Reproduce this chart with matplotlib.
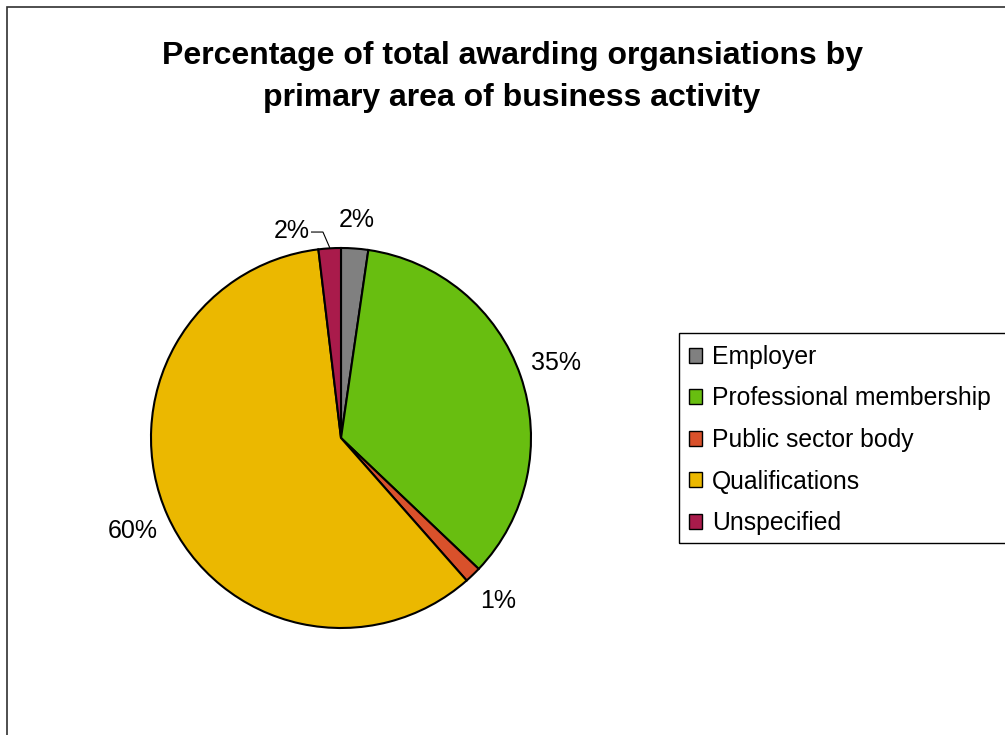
import numpy as np
import matplotlib.pyplot as plt
from matplotlib.patches import Rectangle, Patch

plt.rcParams['font.family'] = ['Liberation Sans', 'DejaVu Sans']

categories = ['Employer', 'Professional membership', 'Public sector body',
              'Qualifications', 'Unspecified']
shares = [2.3, 34.8, 1.4, 59.6, 1.9]
colours = ['#808080', '#68BE10', '#D9512B', '#EBB800', '#A91B4B']

W, H = 1005, 735
fig = plt.figure(figsize=(W / 100, H / 100), dpi=100)

# outer chart frame (runs off the right and bottom edges)
fig.patches.append(Rectangle((7 / W, -0.1), 1.2, 1.1 - 7 / H, transform=fig.transFigure,
                             fill=False, edgecolor='#303030', linewidth=1.2))

fig.text(512 / W, 1 - 77 / H, 'Percentage of total awarding organsiations by\nprimary area of business activity',
         ha='center', va='center', fontsize=23, fontweight='bold', linespacing=1.5)

# pie centre (341, 438) px, radius 190 px
cx, cy, r = 341, 438, 190
ax = fig.add_axes([(cx - r) / W, (H - cy - r) / H, 2 * r / W, 2 * r / H])
wedges, _ = ax.pie(shares, colors=colours, startangle=90, counterclock=False, radius=1,
                   wedgeprops=dict(edgecolor='black', linewidth=1.5))
ax.set_xlim(-1, 1)
ax.set_ylim(-1, 1)
ax.set_aspect('equal')
ax.axis('off')

# percentage labels around the pie
dists = [1.15, 1.2, 1.19, 1.2, None]
for w, val, d in zip(wedges, shares, dists):
    mid = np.deg2rad((w.theta1 + w.theta2) / 2)
    txt = '%.0f%%' % val
    if d is None:
        # small slice: label pulled left with a leader line
        ex, ey = np.cos(mid), np.sin(mid)
        ax.plot([-0.155, -0.095, ex * 1.005], [1.084, 1.084, ey * 1.005], color='black',
                linewidth=0.8, clip_on=False)
        ax.text(-0.165, 1.09, txt, ha='right', va='center', fontsize=18)
    else:
        ax.text(d * np.cos(mid), d * np.sin(mid), txt, ha='center', va='center', fontsize=18)

handles = [Patch(facecolor=c, edgecolor='black', linewidth=1) for c in colours]
leg = fig.legend(handles, categories, loc='upper left', bbox_to_anchor=(677 / W, 1 - 333 / H),
                 fontsize=17.8, frameon=False, borderaxespad=0,
                 handlelength=0.55, handleheight=0.55, handletextpad=0.4,
                 labelspacing=0.71, borderpad=0.48)
# legend box is cut off by the chart edge on the right
fig.patches.append(Rectangle((679 / W, 1 - 543 / H), 0.5, 210 / H, transform=fig.transFigure,
                             fill=False, edgecolor='black', linewidth=1))

fig.savefig('out.png', dpi=100)
